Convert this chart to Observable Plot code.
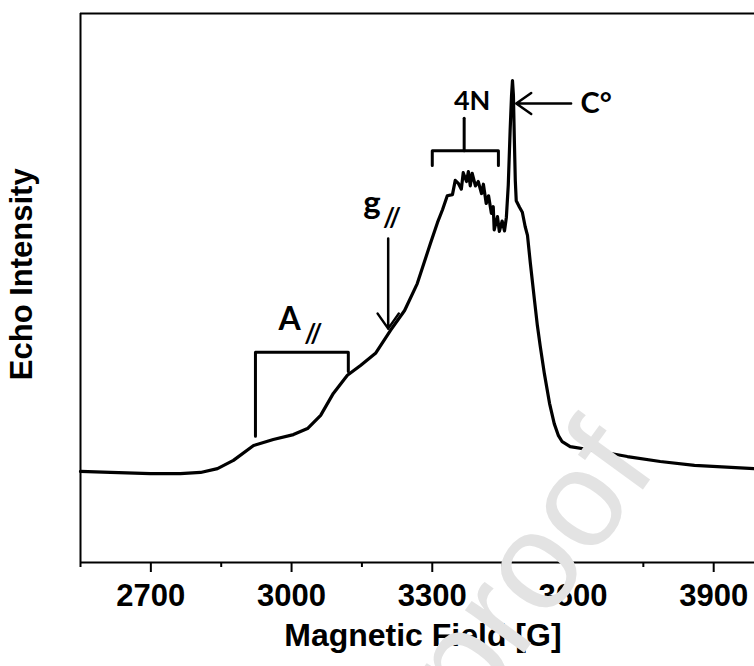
<!DOCTYPE html>
<html><head><meta charset="utf-8">
<script src="https://cdn.jsdelivr.net/npm/d3@7"></script>
<script src="https://cdn.jsdelivr.net/npm/@observablehq/plot@0.6"></script>
<style>body{margin:0;background:#fff}</style>
</head><body><div id="chart"></div>
<script>
// Magnetic field [G]
const field = [2550,2614,2699,2763,2806,2842,2876,2919,2961,3004,3034,3062,3089,3119,3147,3179,3211,3241,3268,3296,3311,3322,3332,3343,3349,3356,3362,3366,3373,3377,3381,3385,3392,3398,3405,3409,3415,3420,3426,3430,3432,3439,3443,3449,3454,3458,3462,3466,3469,3471,3473,3475,3477,3479,3486,3492,3498,3503,3509,3518,3524,3530,3539,3550,3560,3569,3577,3594,3645,3716,3786,3859,3987];
// Echo intensity (arbitrary units)
const intensity = [16.6,16.4,16.2,16.2,16.4,17.1,18.6,21.3,22.4,23.3,24.4,26.8,30.8,34.1,35.9,38.1,42.3,45.9,50.8,58.1,61.9,64.3,66.8,67.0,69.6,69.0,68.0,71.0,69.4,71.2,68.6,70.9,68.6,69.4,67.2,68.9,65.4,66.8,63.6,64.8,60.6,63.0,60.3,62.2,60.4,62.9,68.7,78.7,85.1,87.8,85.1,76.9,69.6,65.9,64.7,63.8,61.2,59.6,54.6,47.7,43.2,39.5,34.4,29.0,25.3,23.1,22.0,21.1,20.4,19.3,18.4,17.7,17.1];

const majorTicks = [2700, 3000, 3300, 3600, 3900];
const minorTicks = [2550, 2850, 3150, 3450, 3750];

// annotation geometry (data coordinates)
const bracketN = [[3300, 72.3], [3300, 75.0], [3441, 75.0], [3441, 72.3]];
const stemN = [[3368, 75.0], [3368, 80.9]];
const bracketA = [[2923, 23.0], [2923, 38.3], [3121, 38.3], [3121, 34.8]];
const arrows = [
  {x1: 3596, y1: 83.6, x2: 3479, y2: 83.6},
  {x1: 3206, y1: 59.0, x2: 3206, y2: 42.6}
];
const labels = [
  {x: 3153, y: 63.4, text: "g", size: 33},
  {x: 3195, y: 61.2, text: "//", size: 26},
  {x: 2972, y: 42.3, text: "A", size: 32},
  {x: 3027, y: 39.9, text: "//", size: 26}
];
const labelsMid = [
  {x: 3385, y: 84.0, text: "4N", size: 27, anchor: "middle"},
  {x: 3616, y: 83.6, text: "C°", size: 29, anchor: "start"}
];

const data = field.map((f, i) => ({f, v: intensity[i]}));
const annFont = "Lato, Carlito, 'Open Sans', sans-serif";

const chart = Plot.plot({
  width: 754, height: 666,
  marginLeft: 80, marginRight: 0, marginTop: 13, marginBottom: 104,
  x: {domain: [2550, 3987], label: null},
  y: {domain: [0, 100], axis: null},
  style: {fontFamily: "'Liberation Sans', Arial, sans-serif", background: "white", overflow: "visible", color: "#000"},
  marks: [
    Plot.ruleY([100], {stroke: "#000", strokeWidth: 2}),
    Plot.ruleX([2550], {stroke: "#000", strokeWidth: 2}),
    Plot.ruleY([0], {stroke: "#000", strokeWidth: 2}),
    Plot.axisX({ticks: minorTicks, tickSize: 5, text: null, strokeWidth: 2, label: null}),
    Plot.axisX({ticks: majorTicks, tickSize: 10, tickPadding: 11, strokeWidth: 2, fontSize: 31, fontWeight: "bold", letterSpacing: 0.8, tickFormat: d => String(d), label: null}),
    Plot.line(data, {x: "f", y: "v", stroke: "#000", strokeWidth: 3.2, strokeLinejoin: "round"}),
    Plot.line(bracketN, {x: d => d[0], y: d => d[1], stroke: "#000", strokeWidth: 3, strokeLinejoin: "round", strokeLinecap: "round"}),
    Plot.line(stemN, {x: d => d[0], y: d => d[1], stroke: "#000", strokeWidth: 3}),
    Plot.line(bracketA, {x: d => d[0], y: d => d[1], stroke: "#000", strokeWidth: 3}),
    Plot.arrow(arrows, {x1: "x1", y1: "y1", x2: "x2", y2: "y2", stroke: "#000", strokeWidth: 2.5, headLength: 11, headAngle: 70}),
    Plot.text(labels, {x: "x", y: "y", text: "text", fontSize: d => d.size, textAnchor: "start", lineAnchor: "bottom", fontWeight: "bold", fontFamily: annFont, fill: "#000"}),
    Plot.text(labelsMid.filter(d => d.anchor === "start"), {x: "x", y: "y", text: "text", fontSize: d => d.size, textAnchor: "start", fontWeight: "bold", fontFamily: annFont, fill: "#000"}),
    Plot.text(labelsMid.filter(d => d.anchor === "middle"), {x: "x", y: "y", text: "text", fontSize: d => d.size, textAnchor: "middle", fontWeight: "bold", fontFamily: annFont, fill: "#000"}),
    Plot.text(["Magnetic Field [G]"], {x: 3280, frameAnchor: "bottom", dy: 83, text: d => d, textAnchor: "middle", fontSize: 32, fontWeight: "bold", fill: "#000", letterSpacing: 1.9}),
    Plot.text(["Echo Intensity"], {y: 52.5, frameAnchor: "left", dx: -58, rotate: -90, text: d => d, textAnchor: "middle", fontSize: 31, fontWeight: "bold", fill: "#000", letterSpacing: 1.6}),
    Plot.text(["proof"], {x: 3585, y: -6, text: d => d, rotate: -54, fontSize: 138, lineAnchor: "bottom", textAnchor: "middle", fill: "#e3e3e3", fontFamily: "'Liberation Sans', Arial, sans-serif"})
  ]
});
document.getElementById("chart").appendChild(chart);
</script>
</body></html>
